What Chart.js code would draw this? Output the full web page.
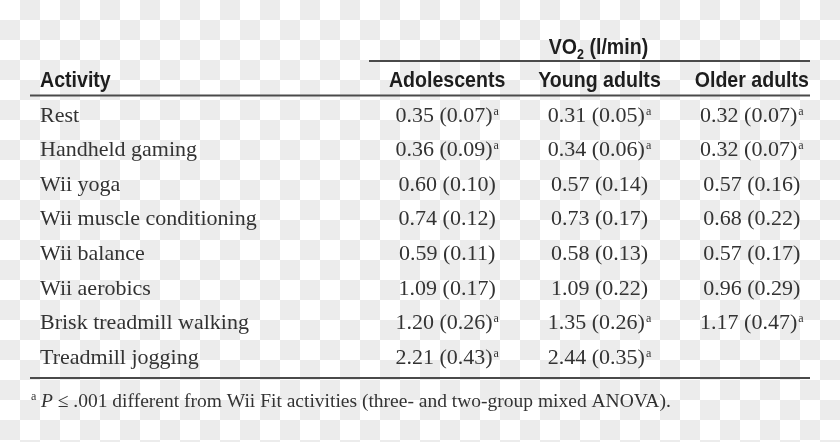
<!DOCTYPE html>
<html>
<head>
<meta charset="utf-8">
<script src="https://cdn.jsdelivr.net/npm/chart.js@4/dist/chart.umd.min.js"></script>
<style>
  html, body { margin: 0; padding: 0; }
  body {
    width: 840px; height: 442px; overflow: hidden;
    background: repeating-conic-gradient(#ececec 0 25%, #ffffff 0 50%) 0 0 / 40px 40px;
  }
  canvas { display: block; }
</style>
</head>
<body>
<canvas id="tabel" width="840" height="442"></canvas>
<script>
const activities = ["Rest", "Handheld gaming", "Wii yoga", "Wii muscle conditioning",
  "Wii balance", "Wii aerobics", "Brisk treadmill walking", "Treadmill jogging"];
const groups = ["Adolescents", "Young adults", "Older adults"];

const meanAdolescents = [0.35, 0.36, 0.60, 0.74, 0.59, 1.09, 1.20, 2.21];
const sdAdolescents   = [0.07, 0.09, 0.10, 0.12, 0.11, 0.17, 0.26, 0.43];
const meanYoung = [0.31, 0.34, 0.57, 0.73, 0.58, 1.09, 1.35, 2.44];
const sdYoung   = [0.05, 0.06, 0.14, 0.17, 0.13, 0.22, 0.26, 0.35];
const meanOlder = [0.32, 0.32, 0.57, 0.68, 0.57, 0.96, 1.17, null];
const sdOlder   = [0.07, 0.07, 0.16, 0.22, 0.17, 0.29, 0.47, null];
// baris dengan tanda "a" (beda dari aktivitas Wii Fit)
const differs = [true, true, false, false, false, false, true, true];

const means = [meanAdolescents, meanYoung, meanOlder];
const sds = [sdAdolescents, sdYoung, sdOlder];

const serif = "'Liberation Serif', 'Times New Roman', serif";
const sans = "'Liberation Sans', Arial, sans-serif";
const squeeze = 0.89;

function condensed(ctx, text, x, y, align) {
  ctx.save();
  ctx.translate(x, y);
  ctx.scale(squeeze, 1);
  ctx.textAlign = align;
  ctx.fillText(text, 0, 0);
  ctx.restore();
}

// Gambar isi tabel dari posisi skala
const tablePlugin = {
  id: "tablePlugin",
  afterDatasetsDraw(chart) {
    const ctx = chart.ctx;
    const area = chart.chartArea;
    const xs = chart.scales.x;
    const ys = chart.scales.y;
    const lineLeft = 30, lineRight = 810;
    ctx.save();
    ctx.textBaseline = "alphabetic";

    // garis
    ctx.strokeStyle = "#4a4a4a";
    ctx.lineWidth = 2;
    ctx.beginPath();
    ctx.moveTo(xs.left - 2, 61); ctx.lineTo(lineRight, 61);
    ctx.moveTo(lineLeft, area.top - 1.5); ctx.lineTo(lineRight, area.top - 1.5);
    ctx.moveTo(lineLeft, area.bottom + 4); ctx.lineTo(lineRight, area.bottom + 4);
    ctx.stroke();

    // judul kolom
    ctx.fillStyle = "#1e1e1e";
    ctx.font = "bold 22px " + sans;
    const headY = area.top - 10.5;
    condensed(ctx, "Activity", 40, headY, "left");
    groups.forEach(function (g) {
      condensed(ctx, g, xs.getPixelForValue(xs.parse(g)), headY, "center");
    });

    // VO2 (l/min)
    const vo = "VO", unit = " (l/min)";
    ctx.font = "bold 22px " + sans;
    const wVo = ctx.measureText(vo).width * squeeze;
    const wUnit = ctx.measureText(unit).width * squeeze;
    ctx.font = "bold 14px " + sans;
    const wSub = ctx.measureText("2").width * squeeze;
    const cx = (xs.left + xs.right) / 2 - 1;
    let x0 = cx - (wVo + wSub + wUnit) / 2;
    ctx.font = "bold 22px " + sans;
    condensed(ctx, vo, x0, 53.5, "left");
    ctx.font = "bold 14px " + sans;
    condensed(ctx, "2", x0 + wVo, 59, "left");
    ctx.font = "bold 22px " + sans;
    condensed(ctx, unit, x0 + wVo + wSub, 53.5, "left");

    // label aktivitas
    ctx.fillStyle = "#333333";
    ctx.font = "22px " + serif;
    ctx.textAlign = "left";
    activities.forEach(function (a, i) {
      ctx.fillText(a, 40, ys.getPixelForValue(i) + 7.3);
    });

    // nilai
    chart.data.datasets.forEach(function (ds, di) {
      const meta = chart.getDatasetMeta(di);
      meta.data.forEach(function (pt, i) {
        const m = means[di][i];
        if (m === null) return;
        const txt = m.toFixed(2) + " (" + sds[di][i].toFixed(2) + ")";
        ctx.font = "22px " + serif;
        const w = ctx.measureText(txt).width;
        ctx.font = "12px " + serif;
        const ws = differs[i] ? ctx.measureText("a").width + 1 : 0;
        const left = pt.x - (w + ws) / 2;
        const base = pt.y + 7.3;
        ctx.textAlign = "left";
        ctx.font = "22px " + serif;
        ctx.fillText(txt, left, base);
        if (differs[i]) {
          ctx.font = "12px " + serif;
          ctx.fillText("a", left + w + 1, base - 7);
        }
      });
    });

    // catatan kaki
    const fy = area.bottom + 32.5;
    ctx.font = "12px " + serif;
    ctx.fillText("a", 31, fy - 7);
    ctx.font = "italic 19.5px " + serif;
    ctx.fillText("P", 41, fy);
    const wp = ctx.measureText("P").width;
    ctx.font = "19.5px " + serif;
    ctx.fillText(" \u2264 .001 different from Wii Fit activities (three- and two-group mixed ANOVA).", 41 + wp, fy);
    ctx.restore();
  }
};

const ctxTabel = document.getElementById("tabel").getContext("2d");
new Chart(ctxTabel, {
  type: "scatter",
  data: {
    datasets: groups.map(function (g) {
      return {
        label: g,
        data: activities.map(function (a) { return { x: g, y: a }; }),
        pointRadius: 0,
        pointHoverRadius: 0
      };
    })
  },
  options: {
    responsive: false,
    animation: false,
    events: [],
    layout: { padding: { left: 371, right: 12, top: 97, bottom: 68 } },
    plugins: { legend: { display: false }, tooltip: { enabled: false } },
    scales: {
      x: { type: "category", labels: groups, offset: true, display: false },
      y: { type: "category", labels: activities, offset: true, display: false }
    }
  },
  plugins: [tablePlugin]
});
</script>
</body>
</html>
